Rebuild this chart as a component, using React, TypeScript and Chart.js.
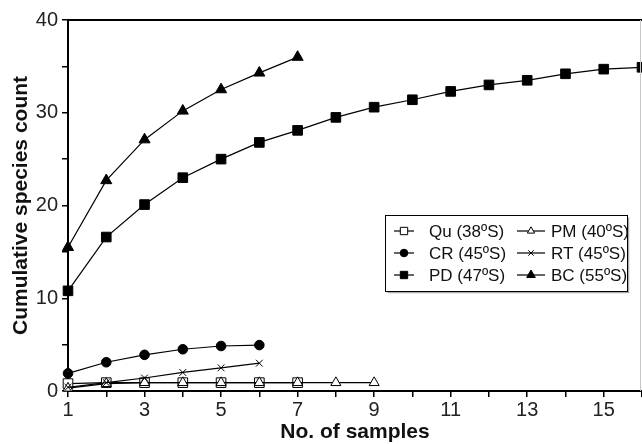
import React, { useEffect, useRef } from "react";
import { Chart, registerables } from "chart.js";
import { drawPoint } from "chart.js/helpers";

Chart.register(...registerables);

const sampleNumbers = [1, 2, 3, 4, 5, 6, 7, 8, 9, 10, 11, 12, 13, 14, 15, 16];

const seriesLabels = ["Qu (38ºS)", "PM (40ºS)", "CR (45ºS)", "RT (45ºS)", "PD (47ºS)", "BC (55ºS)"];

const quValues = [0.8, 0.9, 0.9, 0.9, 0.9, 0.9, 0.9];
const pmValues = [0.3, 0.8, 0.9, 0.9, 0.9, 0.9, 0.9, 0.9, 0.9];
const crValues = [1.9, 3.1, 3.9, 4.5, 4.85, 4.95];
const rtValues = [0.4, 0.9, 1.4, 2.0, 2.5, 3.0];
const pdValues = [10.8, 16.6, 20.1, 23.0, 25.0, 26.8, 28.1, 29.5, 30.6, 31.4, 32.3, 33.0, 33.5, 34.2, 34.7, 34.9];
const bcValues = [15.5, 22.7, 27.1, 30.2, 32.5, 34.3, 36.0];

const xTickLabels = ["1", "3", "5", "7", "9", "11", "13", "15"];
const yTickLabels = ["0", "10", "20", "30", "40"];

const FONT = "'Liberation Sans', Arial, sans-serif";

const toPoints = (vals: number[]) => vals.map((v, i) => ({ x: sampleNumbers[i], y: v }));

type Style = { pointStyle: string; fill: string; radius: number; legendRadius: number };
const styles: Style[] = [
  { pointStyle: "rect", fill: "#ffffff", radius: 6.8, legendRadius: 5.2 },
  { pointStyle: "triangle", fill: "#ffffff", radius: 5.8, legendRadius: 4.2 },
  { pointStyle: "circle", fill: "#000000", radius: 4.8, legendRadius: 3.8 },
  { pointStyle: "crossRot", fill: "#000000", radius: 4.8, legendRadius: 3.8 },
  { pointStyle: "rect", fill: "#000000", radius: 6.8, legendRadius: 5.2 },
  { pointStyle: "triangle", fill: "#000000", radius: 6.4, legendRadius: 5 },
];

const legendPlugin = {
  id: "boxLegend",
  afterDraw(chart: any) {
    const ctx = chart.ctx;
    const { top, right, left, bottom } = chart.chartArea;
    ctx.save();
    ctx.strokeStyle = "#000";
    ctx.lineWidth = 2;
    ctx.beginPath();
    ctx.moveTo(left, top);
    ctx.lineTo(right, top);
    ctx.stroke();
    ctx.strokeStyle = "#c8c8c8";
    ctx.lineWidth = 1;
    ctx.beginPath();
    ctx.moveTo(right - 1.5, top);
    ctx.lineTo(right - 1.5, bottom);
    ctx.stroke();

    const bx = 385.5, by = 215.5, bw = 242, bh = 76;
    ctx.strokeStyle = "#aaaaaa";
    ctx.lineWidth = 1.5;
    ctx.beginPath();
    ctx.moveTo(bx + bw + 1, by + 2);
    ctx.lineTo(bx + bw + 1, by + bh + 1);
    ctx.lineTo(bx + 2, by + bh + 1);
    ctx.stroke();
    ctx.fillStyle = "#fff";
    ctx.fillRect(bx, by, bw, bh);
    ctx.strokeStyle = "#000";
    ctx.lineWidth = 1;
    ctx.strokeRect(bx, by, bw, bh);

    const rows = [231, 253, 275];
    const cols = [
      { x0: 394, x1: 414, tx: 429 },
      { x0: 517, x1: 545, tx: 551 },
    ];
    ctx.font = `17px ${FONT}`;
    ctx.textBaseline = "middle";
    ctx.textAlign = "left";
    chart.data.datasets.forEach((ds: any, i: number) => {
      const r = Math.floor(i / 2);
      const c = cols[i % 2];
      const y = rows[r];
      ctx.strokeStyle = "#000";
      ctx.lineWidth = 1.2;
      ctx.beginPath();
      ctx.moveTo(c.x0, y);
      ctx.lineTo(c.x1, y);
      ctx.stroke();
      const st = styles[i];
      ctx.fillStyle = st.fill;
      ctx.strokeStyle = "#000";
      ctx.lineWidth = 1;
      drawPoint(ctx, { pointStyle: st.pointStyle as any, radius: st.legendRadius, rotation: 0, borderWidth: 1 }, (c.x0 + c.x1) / 2, y);
      ctx.fillStyle = "#111";
      ctx.fillText(ds.label, c.tx, y + 1);
    });
    ctx.restore();
  },
};

export default function App() {
  const ref = useRef<HTMLCanvasElement | null>(null);
  useEffect(() => {
    document.body.style.margin = "0";
    const allValues = [quValues, pmValues, crValues, rtValues, pdValues, bcValues];
    const datasets = allValues.map((vals, i) => ({
      label: seriesLabels[i],
      data: toPoints(vals),
      borderColor: "#000",
      borderWidth: 1.2,
      pointStyle: styles[i].pointStyle,
      pointRadius: styles[i].radius,
      pointHoverRadius: styles[i].radius,
      pointBackgroundColor: styles[i].fill,
      pointBorderColor: "#000",
      pointBorderWidth: 1,
      fill: false,
      tension: 0,
      clip: false as any,
      order: i === 0 ? 10 : 5 - i,
    }));
    const chart = new Chart(ref.current as HTMLCanvasElement, {
      type: "line",
      data: { datasets },
      plugins: [legendPlugin],
      options: {
        animation: false,
        responsive: false,
        maintainAspectRatio: false,
        layout: { autoPadding: false, padding: { top: 20, right: 0, bottom: 0, left: 0 } },
        plugins: { legend: { display: false }, tooltip: { enabled: false } },
        scales: {
          x: {
            type: "linear",
            min: 1,
            max: 16,
            afterFit: (s: any) => { s.height = 53; s.paddingRight = 0; s.paddingLeft = 0; },
            border: { display: true, color: "#000", width: 2 },
            grid: { display: true, drawOnChartArea: false, drawTicks: true, tickLength: 6, color: "#000", lineWidth: 1.5 },
            ticks: {
              stepSize: 1,
              autoSkip: false,
              maxRotation: 0,
              padding: 1,
              color: "#222",
              font: { family: FONT, size: 20 },
              callback: (v: any) => (xTickLabels.includes(String(v)) ? String(v) : ""),
            },
            title: { display: true, text: "No. of samples", color: "#111", font: { family: FONT, size: 21, weight: "bold" }, padding: { top: 0, bottom: -1 } },
          },
          y: {
            type: "linear",
            min: 0,
            max: 40,
            afterFit: (s: any) => { s.width = 68; s.paddingTop = 0; s.paddingBottom = 0; },
            border: { display: true, color: "#000", width: 2 },
            grid: { display: true, drawOnChartArea: false, drawTicks: true, tickLength: 6, color: "#000", lineWidth: 1.5 },
            ticks: {
              stepSize: 5,
              autoSkip: false,
              padding: 4,
              color: "#222",
              font: { family: FONT, size: 20 },
              callback: (v: any) => (yTickLabels.includes(String(v)) ? String(v) : ""),
            },
            title: { display: true, text: "Cumulative species count", color: "#111", font: { family: FONT, size: 21, weight: "bold" }, padding: { top: 9, bottom: 0 } },
          },
        },
      },
    });
    return () => chart.destroy();
  }, []);
  return (
    <div style={{ width: 642, height: 444 }}>
      <canvas ref={ref} width={642} height={444} style={{ display: "block" }} />
    </div>
  );
}
